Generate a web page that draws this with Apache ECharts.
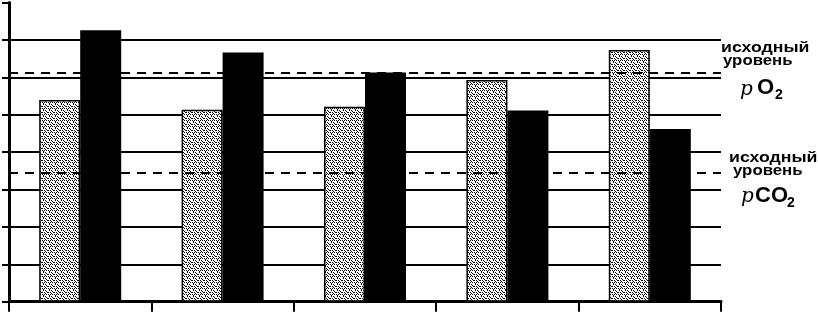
<!DOCTYPE html>
<html>
<head>
<meta charset="utf-8">
<script src="https://cdn.jsdelivr.net/npm/echarts@6/dist/echarts.min.js"></script>
<style>
html,body{margin:0;padding:0;background:#fff;}
#chart{width:818px;height:312px;}
</style>
</head>
<body>
<div id="chart"></div>
<script>
// ---- data ----
const categories = ['1', '2', '3', '4', '5'];
const dottedValues = [5.39, 5.13, 5.21, 5.93, 6.73];
const blackValues = [7.26, 6.66, 6.13, 5.11, 4.62];
const baselineO2 = 6.12;
const baselineCO2 = 3.46;
const yMin = 0, yMax = 8, yStep = 1;
const labelLine1 = 'исходный';
const labelLine2 = 'уровень';

// ---- stipple pattern ----
function makePattern() {
  const c = document.createElement('canvas');
  c.width = 6; c.height = 6;
  const g = c.getContext('2d');
  g.fillStyle = '#fff'; g.fillRect(0, 0, 6, 6);
  g.fillStyle = '#000';
  const px = [[0,0],[2,0],[4,0],[1,2],[3,2],[4,3],[0,4],[2,4],[5,4],[3,5],[1,1]];
  px.forEach(p => g.fillRect(p[0], p[1], 1, 1));
  return c;
}

const chart = echarts.init(document.getElementById('chart'));
const splitColors = [];
for (let v = yMin; v <= yMax; v += yStep) splitColors.push(v === yMax || v === yMin ? 'rgba(0,0,0,0)' : '#000');

const font = 'bold 15px "Liberation Sans", Arial, sans-serif';
const bigFont = 'bold 22px "Liberation Sans", Arial, sans-serif';
const subFont = 'bold 14px "Liberation Sans", Arial, sans-serif';
const pFont = 'italic 20px "DejaVu Serif", serif';
function txt(text, x, y, sx, f) {
  return { type: 'text', x: x, y: y, scaleX: sx || 1, z: 100,
    style: { text: text, x: 0, y: 0, font: f || font, fill: '#000', align: 'left', verticalAlign: 'middle' } };
}

chart.setOption({
  animation: false,
  backgroundColor: '#fff',
  grid: { left: 9, right: 97, top: 2.5, bottom: 10.3, containLabel: false },
  xAxis: {
    type: 'category', data: categories,
    axisLine: { lineStyle: { color: '#000', width: 3 } },
    axisTick: { show: true, length: 10, lineStyle: { color: '#000', width: 2 } },
    axisLabel: { show: false }
  },
  yAxis: {
    type: 'value', min: yMin, max: yMax, interval: yStep,
    axisLine: { show: true, lineStyle: { color: '#000', width: 3 } },
    axisTick: { show: true, length: 7, lineStyle: { color: '#000', width: 2 } },
    axisLabel: { show: false },
    splitLine: { show: true, lineStyle: { color: splitColors, width: 2 } }
  },
  series: [
    {
      type: 'line', data: [], z: 1, silent: true,
      markLine: {
        symbol: 'none', silent: true, label: { show: false },
        lineStyle: { color: '#000', width: 2, type: [9, 7] },
        data: [{ yAxis: baselineO2 }, { yAxis: baselineCO2 }]
      }
    },
    {
      name: 'A', type: 'bar', data: dottedValues, barWidth: 41, barGap: '0%', z: 3,
      itemStyle: { color: { image: makePattern(), repeat: 'repeat' }, borderColor: '#000', borderWidth: 1.5 }
    },
    {
      name: 'B', type: 'bar', data: blackValues, barWidth: 41, z: 3,
      itemStyle: { color: '#000' }
    }
  ],
  graphic: [
    txt(labelLine1, 721, 47.5, 1.18),
    txt(labelLine2, 723, 61, 1.12),
    txt('p', 740, 90, 1, pFont),
    txt('O', 757, 88, 1, bigFont),
    txt('2', 775, 95, 1, subFont),
    txt(labelLine1, 729, 157.5, 1.18),
    txt(labelLine2, 733, 171, 1.12),
    txt('p', 741, 197, 1, pFont),
    txt('CO', 755, 196, 1, bigFont),
    txt('2', 787, 203, 1, subFont)
  ]
});
</script>
</body>
</html>
